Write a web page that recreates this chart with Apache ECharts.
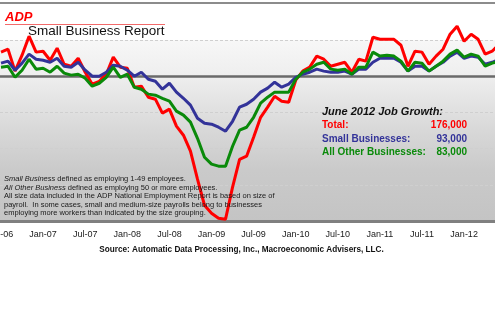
<!DOCTYPE html>
<html>
<head>
<meta charset="utf-8">
<script src="https://cdn.jsdelivr.net/npm/echarts@6/dist/echarts.min.js"></script>
<style>html,body{margin:0;padding:0;background:#fff;}#c{width:495px;height:330px;}</style>
</head>
<body>
<div id="c"></div>
<script>
const months = ['Jul-06','Aug-06','Sep-06','Oct-06','Nov-06','Dec-06',
'Jan-07','Feb-07','Mar-07','Apr-07','May-07','Jun-07','Jul-07','Aug-07','Sep-07','Oct-07','Nov-07','Dec-07',
'Jan-08','Feb-08','Mar-08','Apr-08','May-08','Jun-08','Jul-08','Aug-08','Sep-08','Oct-08','Nov-08','Dec-08',
'Jan-09','Feb-09','Mar-09','Apr-09','May-09','Jun-09','Jul-09','Aug-09','Sep-09','Oct-09','Nov-09','Dec-09',
'Jan-10','Feb-10','Mar-10','Apr-10','May-10','Jun-10','Jul-10','Aug-10','Sep-10','Oct-10','Nov-10','Dec-10',
'Jan-11','Feb-11','Mar-11','Apr-11','May-11','Jun-11','Jul-11','Aug-11','Sep-11','Oct-11','Nov-11','Dec-11',
'Jan-12','Feb-12','Mar-12','Apr-12','May-12','Jun-12'];

// Thousands of jobs, monthly change
const total = [133,149,28,116,221,133,138,88,155,66,
55,99,22,-44,-28,11,105,50,44,-61,
-55,-116,-127,-204,-182,-276,-326,-414,-569,-713,
-757,-785,-790,-613,-459,-442,-337,-227,-171,-111,
-138,-144,-22,28,50,111,94,55,66,77,
22,94,83,215,204,204,204,171,55,138,
133,66,111,149,232,276,193,232,204,122,
138,176];
const smallBiz = [72,83,33,72,122,94,88,77,99,55,
50,77,33,0,0,22,61,55,33,0,
22,-17,-28,-72,-39,-88,-122,-160,-232,-260,
-265,-282,-304,-249,-171,-155,-127,-88,-66,-33,
-61,-44,-6,11,22,39,28,22,22,28,
11,39,39,77,99,99,99,77,28,55,
55,28,55,77,111,133,99,111,105,66,
77,93];
const otherBiz = [50,55,-6,33,94,39,44,22,55,17,
6,11,-11,-55,-39,-6,50,-6,11,-61,
-72,-99,-105,-122,-138,-193,-215,-254,-343,-448,
-486,-497,-497,-387,-298,-282,-227,-149,-116,-88,
-88,-88,-17,22,39,66,77,39,33,39,
11,50,50,133,111,116,111,83,28,77,
72,28,55,83,122,144,105,122,111,55,
72,83];

const tickLabels = ['Jul-06','Jan-07','Jul-07','Jan-08','Jul-08','Jan-09','Jul-09','Jan-10','Jul-10','Jan-11','Jul-11','Jan-12'];

const seriesNames = ['Total:', 'Small Businesses:', 'All Other Businesses:'];
const latestLabel = 'June 2012 Job Growth:';
const latestValues = ['176,000', '93,000', '83,000'];
const notes = [
  '{i|Small Business} defined as employing 1-49 employees.',
  '{i|All Other Business} defined as employing 50 or more employees.',
  'All size data included in the ADP National Employment Report is based on size of',
  'payroll.  In some cases, small and medium-size payrolls belong to businesses',
  'employing more workers than indicated by the size grouping.'
];
const sourceText = 'Source: Automatic Data Processing, Inc., Macroeconomic Advisers, LLC.';

const FONT = '"Liberation Sans", Arial, sans-serif';
const RED = '#ff0000', BLUE = '#333399', GREEN = '#0a8a0a';
const colors = [RED, BLUE, GREEN];

const toPairs = arr => arr.map((v, i) => [i, v]);
const tickIdx = tickLabels.map(l => months.indexOf(l));

const chart = echarts.init(document.getElementById('c'), null, {renderer: 'canvas'});

const graphics = [
  {type: 'rect', shape: {x: 0, y: 2, width: 495, height: 2}, style: {fill: '#8c8c8c'}, z: 10},
  {type: 'text', x: 5, y: 17, style: {text: 'ADP', fill: RED, fontSize: 13, fontWeight: 900, fontStyle: 'italic', fontFamily: FONT, verticalAlign: 'middle'}, z: 10},
  {type: 'line', shape: {x1: 5, y1: 24.5, x2: 165, y2: 24.5}, style: {stroke: '#f26b6b', lineWidth: 1}, z: 10},
  {type: 'text', x: 28, y: 31.5, style: {text: 'Small Business Report', fill: '#111', fontSize: 13.5, fontFamily: FONT, verticalAlign: 'middle'}, z: 10},
  {type: 'text', x: 322, y: 112, style: {text: latestLabel, fill: '#111', fontSize: 11, fontWeight: 'bold', fontStyle: 'italic', fontFamily: FONT, verticalAlign: 'middle'}, z: 10}
];
const rowY = [125, 139, 152.5];
seriesNames.forEach((n, k) => {
  graphics.push({type: 'text', x: 322, y: rowY[k], style: {text: n, fill: colors[k], fontSize: 10, fontWeight: 'bold', fontFamily: FONT, verticalAlign: 'middle'}, z: 10});
  graphics.push({type: 'text', x: 467, y: rowY[k], style: {text: latestValues[k], fill: colors[k], fontSize: 10, fontWeight: 'bold', fontFamily: FONT, verticalAlign: 'middle', align: 'right'}, z: 10});
});
const noteY = [178.5, 187.5, 196, 204.5, 213];
notes.forEach((t, k) => {
  graphics.push({type: 'text', x: 4, y: noteY[k], style: {
    text: t, fill: '#1a1a1a', fontSize: 7.5, fontFamily: FONT, verticalAlign: 'middle',
    rich: {i: {fontStyle: 'italic', fontSize: 7.5, fontFamily: FONT, fill: '#1a1a1a'}}
  }, z: 10});
});
graphics.push({type: 'text', x: 241.5, y: 250, style: {text: sourceText, fill: '#111', fontSize: 8.2, fontWeight: 'bold', fontFamily: FONT, verticalAlign: 'middle', align: 'center'}, z: 10});

chart.setOption({
  animation: false,
  backgroundColor: '#ffffff',
  grid: {
    left: 0, right: 0, top: 40, bottom: 109,
    outerBoundsMode: 'none', containLabel: false,
    show: true, borderWidth: 0,
    backgroundColor: {type: 'linear', x: 0, y: 0, x2: 0, y2: 1, colorStops: [
      {offset: 0, color: '#f7f7f7'}, {offset: 0.2, color: '#eeeeee'},
      {offset: 0.5, color: '#d8d8d8'}, {offset: 0.72, color: '#cacaca'}, {offset: 1, color: '#c4c4c4'}
    ]}
  },
  xAxis: [{
    type: 'value', min: -0.1425, max: 70.4,
    axisLine: {show: true, onZero: false, lineStyle: {color: '#808080', width: 3}},
    axisTick: {show: false},
    splitLine: {show: false},
    axisLabel: {
      show: true, customValues: tickIdx, margin: 9, hideOverlap: false,
      fontSize: 9, color: '#1a1a1a', fontFamily: FONT,
      formatter: v => months[Math.round(v)]
    }
  }, {
    type: 'value', min: -0.1425, max: 70.4, position: 'bottom',
    axisLine: {show: true, onZero: true, lineStyle: {color: '#6a6a6a', width: 2.5}},
    axisTick: {show: false}, axisLabel: {show: false}, splitLine: {show: false}
  }],
  yAxis: {
    type: 'value', min: -800, max: 200, interval: 200,
    axisLine: {show: false}, axisTick: {show: false}, axisLabel: {show: false},
    splitLine: {show: true, lineStyle: {color: '#cfcfcf', type: [3, 2], width: 1}}
  },
  series: [
    {name: 'Total', type: 'line', data: toPairs(total), showSymbol: false, symbol: 'none', clip: false, z: 3,
     lineStyle: {color: RED, width: 3}, itemStyle: {color: RED}},
    {name: 'Small Businesses', type: 'line', data: toPairs(smallBiz), showSymbol: false, symbol: 'none', clip: false, z: 4,
     lineStyle: {color: BLUE, width: 3}, itemStyle: {color: BLUE}},
    {name: 'All Other Businesses', type: 'line', data: toPairs(otherBiz), showSymbol: false, symbol: 'none', clip: false, z: 5,
     lineStyle: {color: GREEN, width: 3}, itemStyle: {color: GREEN}}
  ],
  graphic: graphics
});
</script>
</body>
</html>
